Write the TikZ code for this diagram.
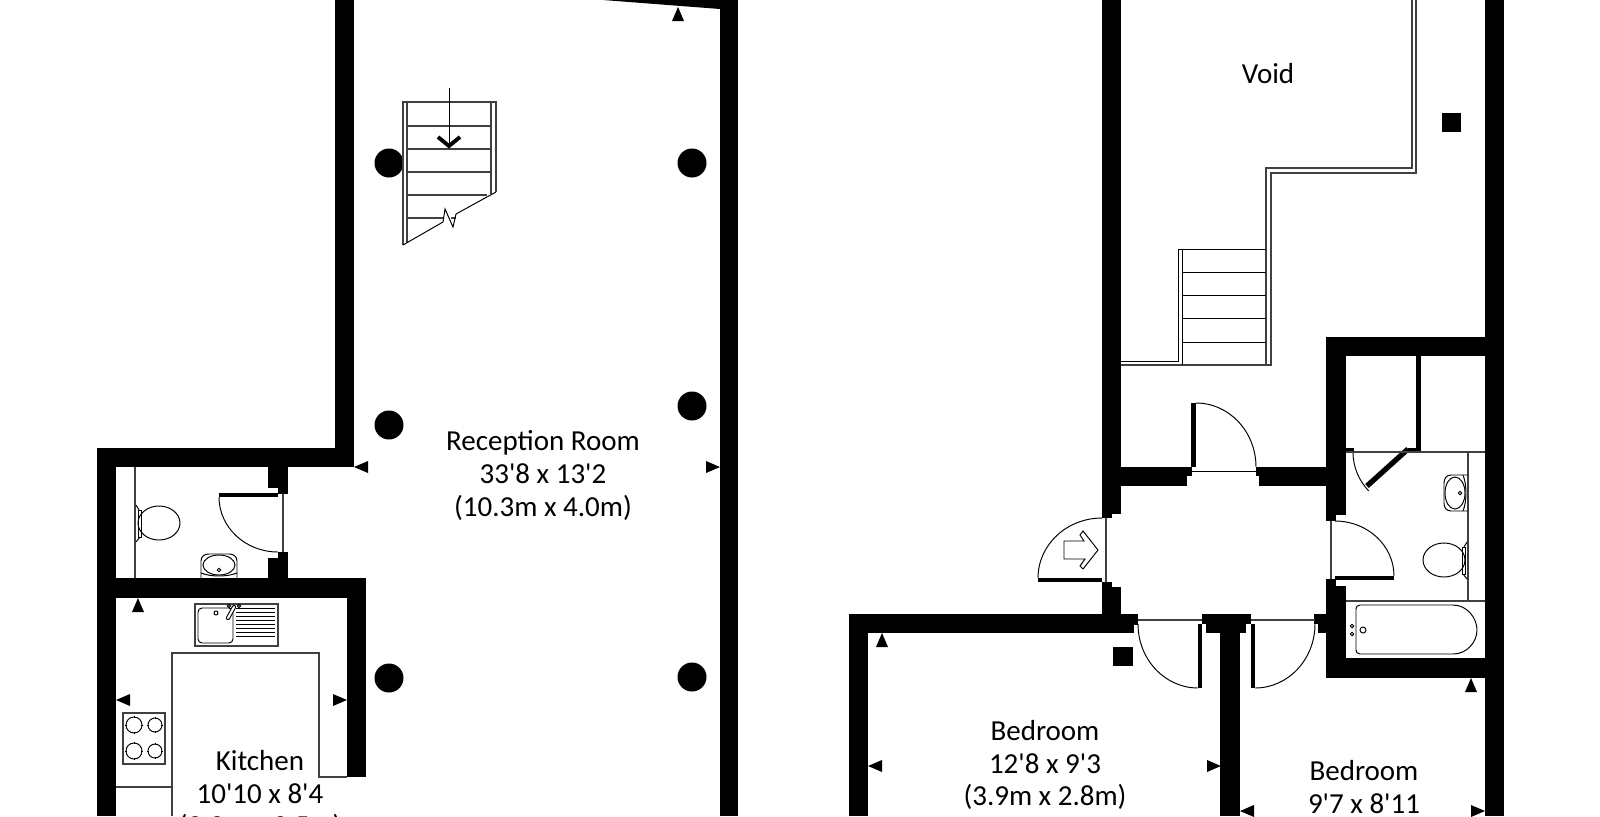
\documentclass[tikz,border=0pt]{standalone}
\usepackage{fontspec}
\newfontfamily\roomfont{Carlito}
\tikzset{
 wall/.style={fill=black},
 fine/.style={draw=black, line width=.55pt},
 screen/.style={draw=black!75, line width=.75pt},
 roomlabel/.style={align=center, inner sep=0pt, font=\roomfont\fontsize{16.5}{18.6}\selectfont},
 toiletpan/.pic={
  \draw[fine] (24,0) ellipse[x radius=21, y radius=17];
  \draw[fine] (3,-13) rectangle (6,14);
  \draw[fine] (1,-18) -- (4,-13) (1,19) -- (5,14);
 },
 basin/.pic={
  \draw[fine] (-18,0) -- (-18,-17) .. controls (-18,-22) and (-14,-24) .. (-10,-24) -- (10,-24) .. controls (14,-24) and (18,-22) .. (18,-17) -- (18,0);
  \draw[fine] (0,-13) ellipse[x radius=16, y radius=10];
  \draw[fine] (-18,-5) .. controls (-8,-1) and (8,-1) .. (18,-5);
  \draw[fine] (0,-8) circle[radius=1.8];
 },
}
\begin{document}
\begin{tikzpicture}[x=0.02cm, y=-0.02cm]
\clip (0,0) rectangle (1600,816);
% ground floor walls
\foreach \xa/\ya/\xb/\yb in {97/448/116/816, 97/448/354/467, 335/0/354/467, 268/467/288/488, 278/488/288/494,
 278/552/288/558, 268/558/288/578, 97/578/366/598, 347/578/366/777, 720/0/738/816} {
 \fill[wall] (\xa,\ya) rectangle (\xb,\yb);
}
\fill[wall] (603,0) -- (720,9) -- (720,0) -- cycle;
% first floor walls
\foreach \xa/\ya/\xb/\yb in {1102/0/1121/514, 1102/514/1112/518, 1102/582/1112/587, 1102/587/1121/614,
 849/614/1138/625, 849/625/1134/633, 849/614/868/816, 1202/614/1251/624, 1206/624/1246/633, 1220/633/1240/816,
 1314/614/1326/624, 1318/624/1326/633, 1326/337/1346/515, 1326/515/1336/521, 1326/579/1336/586, 1326/586/1346/678,
 1326/337/1485/356, 1485/0/1504/816, 1326/658/1485/678, 1121/467/1187/486, 1187/467/1192/476, 1256/467/1259/476,
 1259/467/1326/486, 1416/356/1421/452, 1346/448/1354/452, 1408/448/1416/452, 1113/647/1133/666, 1442/113/1461/132} {
 \fill[wall] (\xa,\ya) rectangle (\xb,\yb);
}
% columns
\foreach \x/\y in {389/163, 692/163, 389/425, 692/406, 389/678, 692/677} {
 \fill (\x,\y) circle[radius=14.5];
}
% measure ticks
\foreach \x/\y/\a in {138/598/0, 678/7/0, 882/633/0, 1471/678/0, 354/467/90, 116/700/90, 868/766/90, 1240/811/90,
 720/467/-90, 347/700/-90, 1221/766/-90, 1485/811/-90} {
 \fill[shift={(\x,\y)}, rotate=\a] (0,0) -- (-6,14) -- (6,14) -- cycle;
}
% door leaves
\foreach \xa/\ya/\xb/\yb in {219/493/278/497, 1198/624/1202/688, 1251/624/1255/688, 1191/403/1196/467, 1038/578/1102/582, 1335/576/1394/580} {
 \fill[wall] (\xa,\ya) rectangle (\xb,\yb);
}
\draw[black, line width=3pt] (1408,449) -- (1367,486);
% door swings
\draw[fine] (219,497) arc[start angle=180, end angle=90, x radius=59, y radius=55];
\draw[fine] (1138,624) arc[start angle=180, end angle=90, x radius=60, y radius=64];
\draw[fine] (1255,688) arc[start angle=90, end angle=0, x radius=60, y radius=64];
\draw[fine] (1196,403) arc[start angle=-90, end angle=0, x radius=60, y radius=64];
\draw[fine] (1102,518) arc[start angle=-90, end angle=-180, x radius=64, y radius=60];
\draw[fine] (1335,521) arc[start angle=-90, end angle=0, x radius=59, y radius=55];
\draw[fine] (1353,452) arc[start angle=180, end angle=136, radius=56];
% thresholds and screens
\draw[screen] (283,494) -- (283,552);
\draw[screen] (135,467) -- (135,578);
\draw[screen] (1138,620) -- (1202,620) (1251,620) -- (1315,620);
\draw[fine] (1192,471) -- (1256,471);
\draw[screen] (1106,518) -- (1106,582);
\draw[screen] (1331,521) -- (1331,579);
\draw[screen] (1346,452) -- (1485,452) (1468,452) -- (1468,601) (1346,601) -- (1485,601);
% entrance arrow
\draw[fine] (1064,541) -- (1084,541) -- (1080,535) -- (1083,531) -- (1098,550) -- (1083,569) -- (1080,566) -- (1085,559) -- (1064,559) -- cycle;
% kitchen units
\draw[screen] (172,816) -- (172,653) -- (319,653) -- (319,777) -- (347,777);
\draw[screen] (116,787) -- (172,787);
\draw[screen] (195,604) rectangle (278,646);
\draw[fine, rounded corners=2.3pt] (198,608) rectangle (233,643);
\foreach \y in {608,612,...,636} {
 \draw[fine] (236,\y) -- (275,\y);
}
\draw[fine] (216,613) circle[radius=2] (229,606) circle[radius=1.6] (239,606) circle[radius=1.6];
\draw[black, line width=2.4pt, line cap=round] (228,618) -- (234,607);
\draw[white, line width=1.2pt, line cap=round] (228,618) -- (234,607);
\draw[screen] (123,713) rectangle (165,764);
\foreach \x/\r in {134/8, 155/7} {
 \foreach \y in {725,751} {
  \draw[fine] (\x,\y) circle[radius=\r];
  \draw[fine] (\x-\r-1,\y) -- (\x-\r+1,\y) (\x+\r-1,\y) -- (\x+\r+1,\y) (\x,\y-\r-1) -- (\x,\y-\r+1) (\x,\y+\r-1) -- (\x,\y+\r+1);
 }
}
% sanitary ware
\pic at (135,523) {toiletpan};
\pic[xscale=-1] at (1468,560) {toiletpan};
\pic at (219,578) {basin};
\pic[rotate=90] at (1468,493) {basin};
\draw[fine] (1360,605) -- (1453,605) .. controls (1467,605) and (1477,618) .. (1477,630) .. controls (1477,642) and (1467,654) .. (1453,654) -- (1360,654) .. controls (1357,654) and (1356,652) .. (1356,650) -- (1356,609) .. controls (1356,607) and (1357,605) .. (1360,605) -- cycle;
\draw[fine] (1352,626) circle[radius=1.8] (1352,634) circle[radius=1.8] (1363,630) circle[radius=3];
% stairs, ground floor
\draw[screen] (403,245) -- (403,102) -- (496,102) -- (496,192);
\draw[screen] (407,102) -- (407,243) (491,102) -- (491,194);
\foreach \y in {126,149,172} {
 \draw[screen] (407,\y) -- (491,\y);
}
\draw[screen] (407,195) -- (487,195);
\draw[screen] (407,218) -- (443,218) (451,218) -- (456,218);
\draw[fine] (403,245) -- (443,222) -- (445,209) -- (453,227) -- (456,214) -- (496,192);
\draw[fine] (449,88) -- (449,148);
\draw[black, line width=2.2pt] (438,137) -- (449,146) -- (460,137);
% stairs and void edge, first floor
\draw[screen] (1412,0) -- (1412,168) -- (1266,168) -- (1266,365);
\draw[screen] (1416,0) -- (1416,173) -- (1271,173) -- (1271,365) -- (1121,365);
\draw[fine] (1121,361) -- (1178,361) -- (1178,249) -- (1266,249);
\draw[fine] (1182,249) -- (1182,365);
\foreach \y in {272,295,318,342} {
 \draw[fine] (1182,\y) -- (1266,\y);
}
% labels
\node[roomlabel] (reception) at (543,475.5) {Reception Room\\33'8 x 13'2\\(10.3m x 4.0m)};
\node[roomlabel] (kitchen) at (260,795) {Kitchen\\10'10 x 8'4\\(3.3m x 2.5m)};
\node[roomlabel] (bedrooma) at (1045,765) {Bedroom\\12'8 x 9'3\\(3.9m x 2.8m)};
\node[roomlabel] (bedroomb) at (1364,787) {Bedroom\\9'7 x 8'11};
\node[roomlabel] (void) at (1268,74) {Void};
\end{tikzpicture}
\end{document}
